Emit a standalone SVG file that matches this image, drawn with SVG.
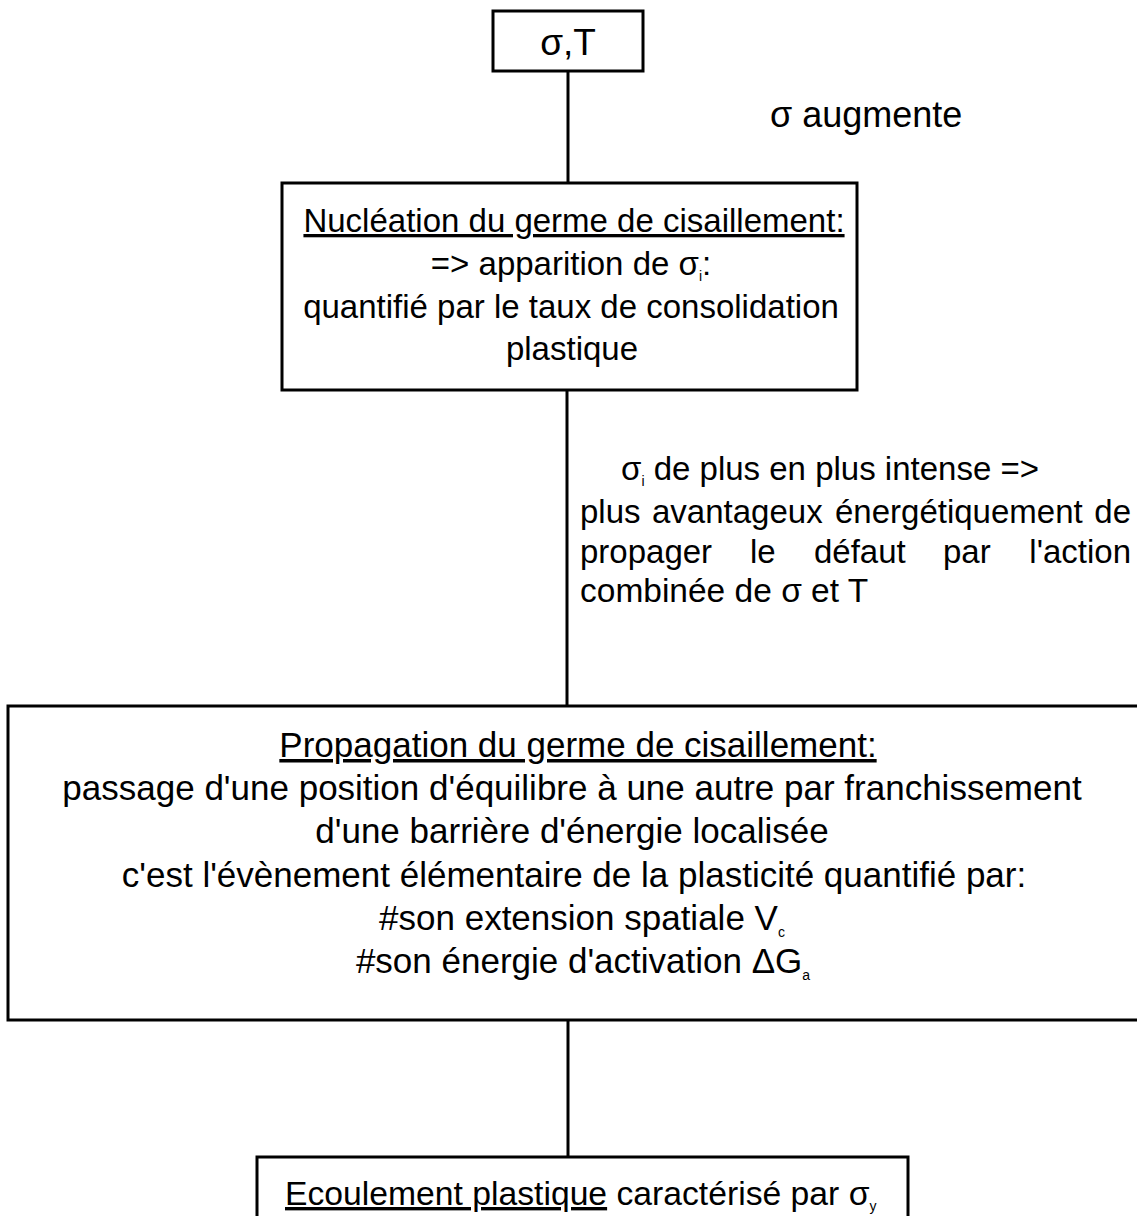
<svg xmlns="http://www.w3.org/2000/svg" width="1137" height="1216" viewBox="0 0 1137 1216">
<style>
.box{fill:none;stroke:#000;stroke-width:3}
.con{stroke:#000;stroke-width:3;fill:none}
text{font-family:"Liberation Sans",Arial,sans-serif;fill:#000}
.c{text-anchor:middle}
.u{text-decoration:underline}
.sub{font-size:14px}
</style>
<rect width="1137" height="1216" fill="#fff"/>
<g id="connectors">
<line class="con" x1="568" y1="71" x2="568" y2="183"/>
<line class="con" x1="567" y1="390" x2="567" y2="706"/>
<line class="con" x1="568" y1="1020" x2="568" y2="1157"/>
</g>
<g id="node-sigmaT">
<rect class="box" x="493" y="11" width="150" height="60"/>
<text class="c" x="568" y="55" font-size="37">σ,T</text>
</g>
<g id="label-augmente">
<text x="770" y="127" font-size="36">σ augmente</text>
</g>
<g id="node-nucleation">
<rect class="box" x="282" y="183" width="575" height="207"/>
<text class="c u" x="574" y="232" font-size="33">Nucléation du germe de cisaillement:</text>
<text class="c" x="571" y="275" font-size="33">=&gt; apparition de σ<tspan class="sub" dy="6">i</tspan><tspan dy="-6">:</tspan></text>
<text class="c" x="571" y="318" font-size="33">quantifié par le taux de consolidation</text>
<text class="c" x="572" y="360" font-size="33">plastique</text>
</g>
<g id="label-propagation">
<text class="c" x="830" y="480" font-size="33">σ<tspan class="sub" dy="6">i</tspan><tspan dy="-6"> de plus en plus intense =&gt;</tspan></text>
<text font-size="33" y="523"><tspan x="580">plus</tspan><tspan x="652">avantageux</tspan><tspan x="835">énergétiquement</tspan></text>
<text font-size="33" y="523" x="1131" text-anchor="end">de</text>
<text font-size="33" y="563"><tspan x="580">propager</tspan><tspan x="750">le</tspan><tspan x="814">défaut</tspan><tspan x="943">par</tspan></text>
<text font-size="33" y="563" x="1131" text-anchor="end">l'action</text>
<text font-size="33.5" x="580" y="602">combinée de σ et T</text>
</g>
<g id="node-propagation">
<rect class="box" x="8" y="706" width="1150" height="314"/>
<text class="c u" x="578" y="757" font-size="35">Propagation du germe de cisaillement:</text>
<text class="c" x="572" y="800" font-size="35">passage d'une position d'équilibre à une autre par franchissement</text>
<text class="c" x="572" y="843" font-size="35">d'une barrière d'énergie localisée</text>
<text class="c" x="574" y="887" font-size="35">c'est l'évènement élémentaire de la plasticité quantifié par:</text>
<text class="c" x="582" y="930" font-size="35">#son extension spatiale V<tspan class="sub" dy="7">c</tspan></text>
<text class="c" x="583" y="973" font-size="35">#son énergie d'activation ΔG<tspan class="sub" dy="7">a</tspan></text>
</g>
<g id="node-ecoulement">
<rect class="box" x="257" y="1157" width="651" height="80"/>
<text x="285" y="1205" font-size="33.7"><tspan class="u">Ecoulement plastique</tspan> caractérisé par σ<tspan class="sub" dy="6">y</tspan></text>
</g>
</svg>
